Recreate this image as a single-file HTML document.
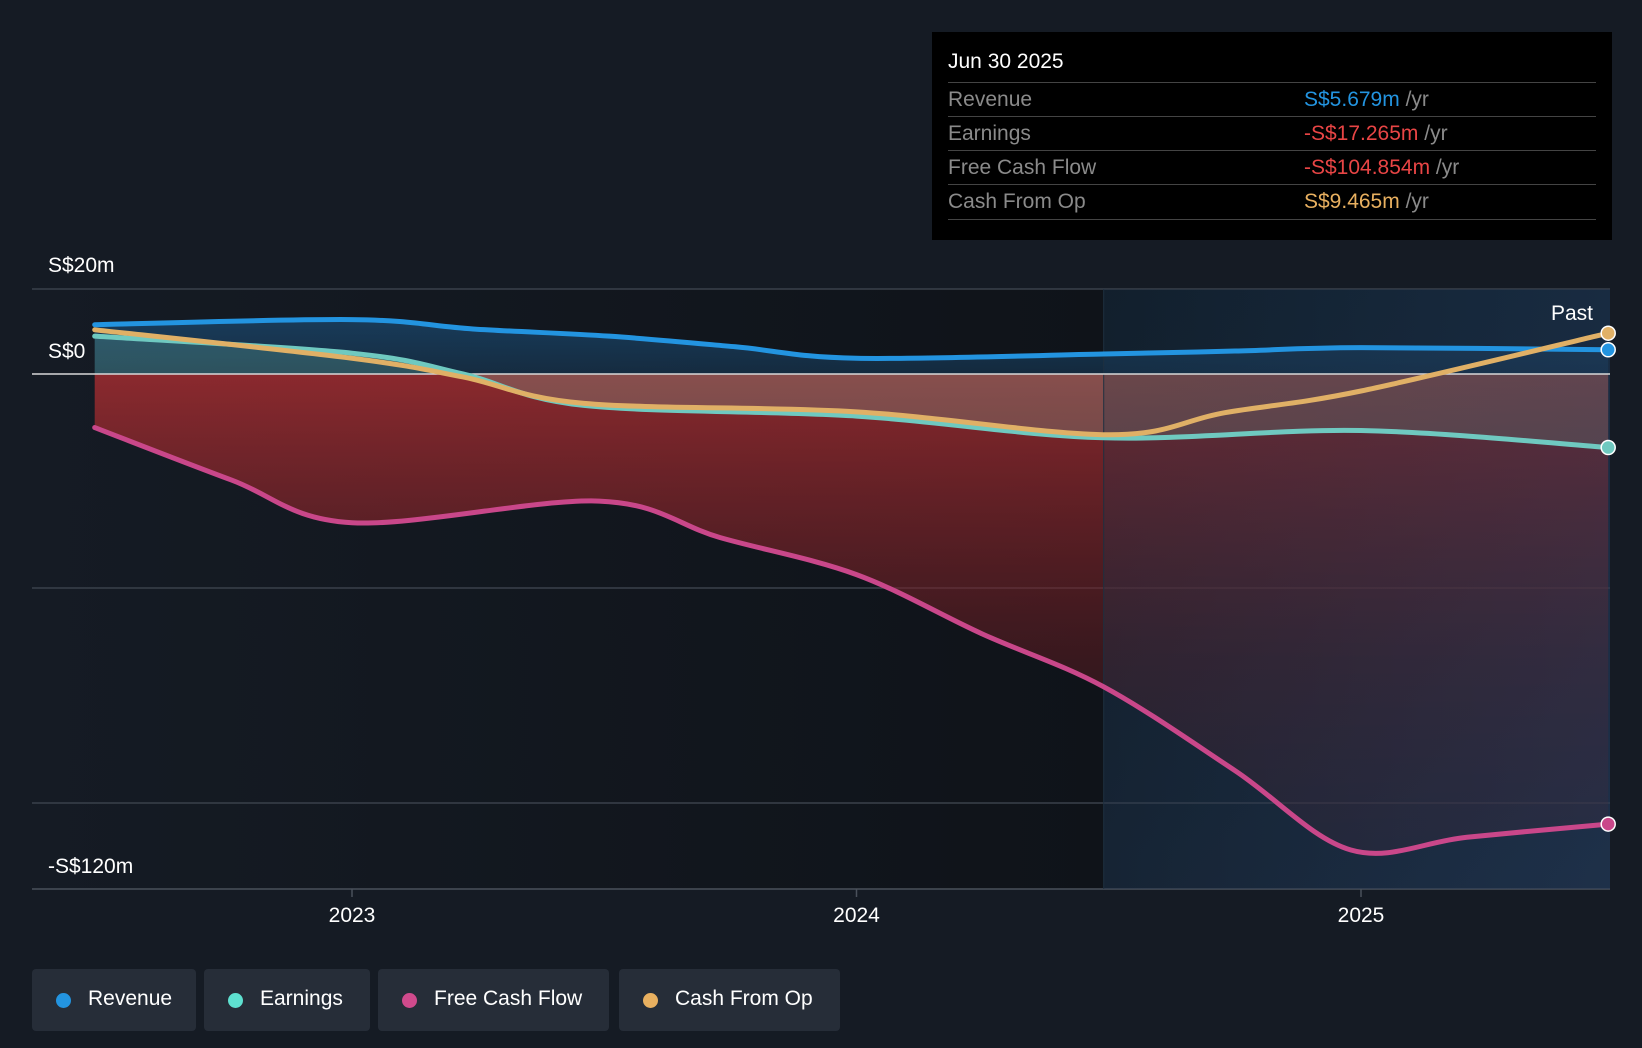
<!DOCTYPE html>
<html><head><meta charset="utf-8"><style>
body{margin:0;background:#151b24;width:1642px;height:1048px;overflow:hidden;font-family:"Liberation Sans",sans-serif;}
.tip{position:absolute;left:932px;top:32px;width:680px;height:208px;background:#000;}
.tip .t{position:absolute;left:16px;top:18px;color:#fff;font-size:21px;}
.row{position:absolute;left:16px;width:648px;height:34px;border-top:1px solid #444;font-size:21px;color:#8a8a8a;}
.row span.l{position:absolute;left:0;top:5px}
.row span.v{position:absolute;left:356px;top:5px}
.leg{position:absolute;top:969px;height:62px;background:#262d38;border-radius:4px;color:#fff;font-size:21px;}
.leg i{position:absolute;left:24px;top:24px;width:15px;height:15px;border-radius:50%}
.leg span{position:absolute;left:56px;top:18px}
</style></head><body>
<svg width="1642" height="1048" style="position:absolute;left:0;top:0">
<defs>
<linearGradient id="bgL" x1="0" x2="1"><stop offset="0" stop-color="#151b24"/><stop offset="1" stop-color="#0f1319"/></linearGradient>
<linearGradient id="bgR" x1="0" x2="1"><stop offset="0" stop-color="#0f1b26"/><stop offset="1" stop-color="#12263a"/></linearGradient>
<linearGradient id="red" x1="0" y1="0" x2="0" y2="1"><stop offset="0" stop-color="#a02c30" stop-opacity="0.85"/><stop offset="0.6" stop-color="#6a1e24" stop-opacity="0.45"/><stop offset="1" stop-color="#4a1a24" stop-opacity="0.3"/></linearGradient>
<linearGradient id="blue" x1="0" y1="0" x2="0" y2="1"><stop offset="0" stop-color="#1a4a72" stop-opacity="0.7"/><stop offset="1" stop-color="#1a4a72" stop-opacity="0.4"/></linearGradient>
<linearGradient id="pastOv" x1="0" y1="0" x2="1" y2="1"><stop offset="0" stop-color="#1a2c40" stop-opacity="0.25"/><stop offset="1" stop-color="#2a3a58" stop-opacity="0.5"/></linearGradient>
</defs>
<g id="g"></g>
</svg>
<div class="tip">
<div class="t">Jun 30 2025</div>
<div class="row" style="top:50px"><span class="l">Revenue</span><span class="v"><b style="font-weight:normal;color:#2394e0">S$5.679m</b> /yr</span></div>
<div class="row" style="top:84px"><span class="l">Earnings</span><span class="v"><b style="font-weight:normal;color:#e84545">-S$17.265m</b> /yr</span></div>
<div class="row" style="top:118px"><span class="l">Free Cash Flow</span><span class="v"><b style="font-weight:normal;color:#e84545">-S$104.854m</b> /yr</span></div>
<div class="row" style="top:152px;height:34px;border-bottom:1px solid #444"><span class="l">Cash From Op</span><span class="v"><b style="font-weight:normal;color:#e8b060">S$9.465m</b> /yr</span></div>
</div>
<div class="leg" style="left:32px;width:164px"><i style="background:#2394e0"></i><span>Revenue</span></div>
<div class="leg" style="left:204px;width:166px"><i style="background:#5ee0d0"></i><span>Earnings</span></div>
<div class="leg" style="left:378px;width:231px"><i style="background:#d04a8c"></i><span>Free Cash Flow</span></div>
<div class="leg" style="left:619px;width:221px"><i style="background:#e8b060"></i><span>Cash From Op</span></div>
<script>
const revT=[2022.49,2023,2023.24,2023.51,2023.76,2024,2024.49,2024.75,2025,2025.49];
const revV=[11.6,12.8,10.6,8.9,6.4,3.7,4.7,5.4,6.2,5.7];
const earnT=[2022.49,2023,2023.22,2023.46,2024,2024.49,2025,2025.49];
const earnV=[8.9,4.9,0,-7.4,-9.9,-15,-13.3,-17.3];
const fcfT=[2022.49,2022.76,2023,2023.49,2023.73,2024,2024.25,2024.49,2024.75,2024.98,2025.21,2025.49];
const fcfV=[-12.6,-24.9,-35,-29.9,-38.5,-47.2,-61.2,-73.6,-93.3,-112,-109,-105.9];
const cfoT=[2022.49,2023,2023.22,2023.46,2024,2024.5,2024.73,2025,2025.49];
const cfoV=[10.4,3.7,-0.7,-6.9,-8.9,-14.3,-9.1,-4,9.6];
const yTickLabels=["S$20m","S$0","-S$120m"];
const xTicks=[2023,2024,2025];
const X=t=>352+(t-2023)*504.5;
const Y=v=>374-v*4.25;
const L=32,R=1610,T=289,B=889;
const g=document.getElementById('g');
const NS='http://www.w3.org/2000/svg';
function mk(tag,a){const e=document.createElementNS(NS,tag);for(const k in a)e.setAttribute(k,a[k]);g.appendChild(e);return e;}
function path(ts,vs){const p=ts.map((t,i)=>[X(t),Y(vs[i])]);let d='M'+p[0][0]+','+p[0][1];
for(let i=0;i<p.length-1;i++){const p0=p[Math.max(0,i-1)],p1=p[i],p2=p[i+1],p3=p[Math.min(p.length-1,i+2)];
const c1=[p1[0]+(p2[0]-p0[0])/6,p1[1]+(p2[1]-p0[1])/6],c2=[p2[0]-(p3[0]-p1[0])/6,p2[1]-(p3[1]-p1[1])/6];
d+=`C${c1[0]},${c1[1]} ${c2[0]},${c2[1]} ${p2[0]},${p2[1]}`;}return d;}
function area(ts,vs){return path(ts,vs)+`L${X(ts[ts.length-1])},${Y(0)}L${X(ts[0])},${Y(0)}Z`;}
let e;
e=mk('rect',{x:L,y:T,width:X(2024.49)-L,height:B-T,fill:'url(#bgL)'});

e=mk('rect',{x:X(2024.49),y:T,width:R-X(2024.49),height:B-T,fill:'url(#bgR)'});

[T,588,803].forEach(y=>{e=mk('line',{x1:L,x2:R,y1:y,y2:y,stroke:'#3a414b','stroke-width':1.5});
});
e=mk('line',{x1:L,x2:R,y1:B,y2:B,stroke:'#4a515b','stroke-width':1.5});

e=mk('path',{d:area(fcfT,fcfV),fill:'url(#red)'});

e=mk('path',{d:area(revT,revV),fill:'url(#blue)'});

e=mk('path',{d:area(earnT,earnV),fill:'#7fd8c0','fill-opacity':0.22});

e=mk('rect',{x:X(2024.49),y:T,width:R-X(2024.49),height:B-T,fill:'url(#pastOv)'});

e=mk('line',{x1:X(2024.49),x2:X(2024.49),y1:T,y2:B,stroke:'#1e3040','stroke-width':1});

e=mk('line',{x1:L,x2:R,y1:Y(0),y2:Y(0),stroke:'#d8d8d8','stroke-width':1.5});

const series=[[revT,revV,'#2394e0','revenue-line'],[earnT,earnV,'#6fc9c0','earnings-line'],[fcfT,fcfV,'#c9478a','fcf-line'],[cfoT,cfoV,'#e0b066','cfo-line']];
series.forEach(s=>{e=mk('path',{d:path(s[0],s[1]),fill:'none',stroke:s[2],'stroke-width':5,'stroke-linecap':'round'});

const n=s[0].length-1;
e=mk('circle',{cx:X(s[0][n]),cy:Y(s[1][n]),r:7,fill:s[2],stroke:'#fff','stroke-width':1.5});
});
[[20,264],[0,350],[-120,865]].forEach((a,i)=>{e=mk('text',{x:48,y:a[1]+8,fill:'#fff','font-size':21,'font-family':'Liberation Sans'});e.textContent=yTickLabels[i];
});
xTicks.forEach(t=>{e=mk('line',{x1:X(t),x2:X(t),y1:B,y2:B+8,stroke:'#4a515b','stroke-width':1.5});

e=mk('text',{x:X(t),y:922,fill:'#fff','font-size':21,'text-anchor':'middle','font-family':'Liberation Sans'});e.textContent=t;
});
e=mk('text',{x:1593,y:320,fill:'#fff','font-size':21,'text-anchor':'end','font-family':'Liberation Sans'});e.textContent='Past';

</script>
</body></html>
